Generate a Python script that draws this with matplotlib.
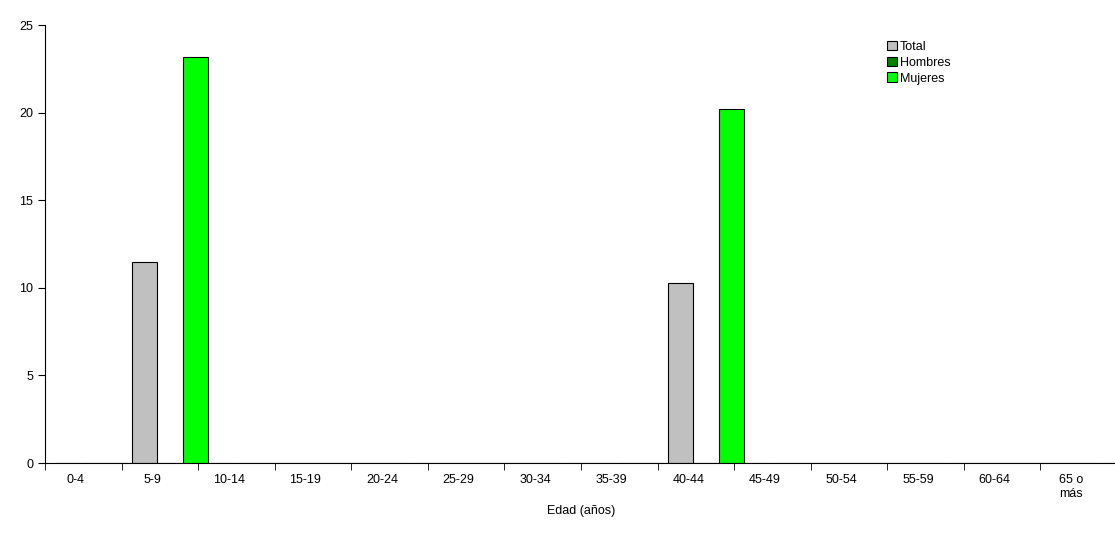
import matplotlib
matplotlib.use("Agg")
import matplotlib.pyplot as plt
import numpy as np

categories = ["0-4", "5-9", "10-14", "15-19", "20-24", "25-29", "30-34", "35-39",
              "40-44", "45-49", "50-54", "55-59", "60-64", "65 o\nmás"]
total = [0, 11.5, 0, 0, 0, 0, 0, 0, 10.3, 0, 0, 0, 0, 0]
hombres = [0] * 14
mujeres = [0, 23.2, 0, 0, 0, 0, 0, 0, 20.2, 0, 0, 0, 0, 0]

plt.rcParams["font.family"] = ["Liberation Sans", "DejaVu Sans"]
fig = plt.figure(figsize=(11.15, 5.5), dpi=100)
ax = fig.add_axes([45 / 1115, 1 - 463 / 550, 1072 / 1115, 438 / 550])

x = np.arange(len(categories))
w = 0.33
ax.bar(x - 0.205, total, w, color="#c0c0c0", edgecolor="black", linewidth=0.8, label="Total")
ax.bar(x + 0.13, hombres, w, color="#008000", edgecolor="black", linewidth=0.8, label="Hombres")
ax.bar(x + 0.465, mujeres, w, color="#00ff00", edgecolor="black", linewidth=0.8, label="Mujeres")

ax.set_xlim(-0.5, len(categories) - 0.5)
ax.set_ylim(0, 25)
ax.set_yticks(range(0, 26, 5))
ax.set_xticks(np.arange(len(categories)) - 0.5, minor=True)
ax.set_xticks(x - 0.1)
ax.set_xticklabels(categories, fontsize=9)
ax.tick_params(axis="x", which="major", length=0, pad=8)
ax.tick_params(axis="x", which="minor", length=5, direction="out")
ax.tick_params(axis="y", labelsize=9, length=5, direction="out")
for s in ("top", "right"):
    ax.spines[s].set_visible(False)
ax.set_xlabel("Edad (años)", fontsize=9)
ax.legend(loc="upper left", bbox_to_anchor=(0.775, 0.99), frameon=False, fontsize=9,
          handlelength=0.8, handleheight=0.8, handletextpad=0.2, labelspacing=0.3)

fig.savefig("out.png", dpi=100)
